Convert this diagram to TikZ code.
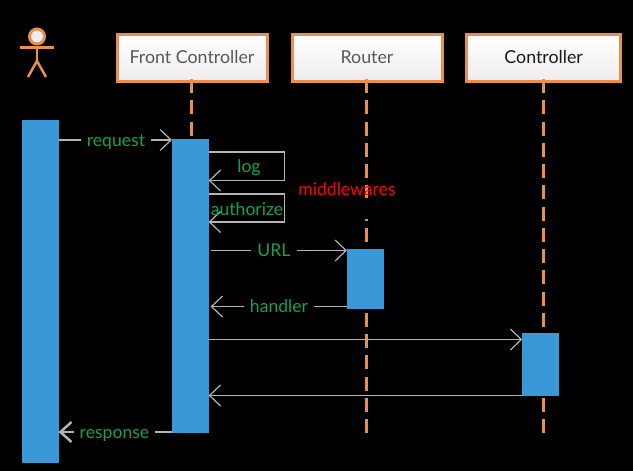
\documentclass[tikz,border=0pt]{standalone}
\usepackage{fontspec}
\setmainfont{Lato}
\usetikzlibrary{arrows.meta}
\definecolor{lineorange}{HTML}{E8914F}
\definecolor{barblue}{HTML}{3A98D8}
\definecolor{labelgreen}{HTML}{16A050}
\definecolor{msggray}{HTML}{B4B4B4}
\tikzset{
  head/.style = {draw = lineorange, line width = 3pt, top color = white, bottom color = black!7, minimum height = 47pt, font = \fontsize{17.8}{20}\selectfont},
  lifeline/.style = {draw = lineorange, line width = 3pt, dash pattern = on 14pt off 7.25pt},
  actbar/.style = {fill = barblue, inner sep = 0pt, outer sep = 0pt, minimum width = 36.7pt},
  msg/.style = {draw = msggray, line width = 1.4pt},
  tomsg/.style = {msg, -{Straight Barb[length = 11pt, width = 21pt, line width = 1.2pt]}},
  tomsgbig/.style = {msg, line width = 2.5pt, -{Straight Barb[length = 11pt, width = 20pt, line width = 2.5pt]}},
  msglabel/.style = {text = labelgreen, inner sep = 0pt, outer sep = 6pt, text height = 14pt, text depth = 2pt, font = \fontsize{17.6}{20}\selectfont},
  actorline/.style = {draw = lineorange, line width = 2.5pt}
}
\begin{document}
\begin{tikzpicture}[x = 1pt, y = -1pt]
\useasboundingbox (0,0) rectangle (633,471);
\fill[black] (0,0) rectangle (633,471);

\node[circle, draw = lineorange, line width = 3pt, fill = black!7, inner sep = 0pt, minimum size = 15pt] (head) at (37,36.5) {};
\coordinate (hip) at (37,61);
\draw[actorline] (head) -- (hip);
\draw[actorline] (20,47.5) -- (54,47.5);
\draw[actorline] (28,77) -- (hip) -- (46,77);

\node[head, minimum width = 150pt, text = black!65] (front) at (192,57.5) {Front Controller};
\node[head, minimum width = 150pt, text = black!65] (router) at (367,57.5) {Router};
\node[head, minimum width = 154pt, text = black!90] (ctrl) at (543.7,57.5) {Controller};

\coordinate (frontstart) at (191.5,79);
\coordinate (routerstart) at (366.5,79);
\coordinate (ctrlstart) at (543.5,79);
\coordinate (frontend) at (191.5,433);
\coordinate (routerend) at (366.5,433);
\coordinate (ctrlend) at (543.5,433);
\draw[lifeline] (frontstart) -- (frontend);
\draw[lifeline] (routerstart) -- (routerend);
\draw[lifeline] (ctrlstart) -- (ctrlend);
\fill[black] (298,198) rectangle (400,218.5);

\node[actbar, minimum height = 343.8pt] (userbar) at (40.3,291.4) {};
\node[actbar, minimum height = 294pt] (frontbar) at (190.3,286.3) {};
\node[actbar, minimum height = 60pt] (routerbar) at (365.3,279.3) {};
\node[actbar, minimum height = 62.4pt] (ctrlbar) at (540.6,364.5) {};

\node[msglabel] (request) at (116,140) {request};
\draw[msg] (userbar.east |- request) -- (request);
\draw[tomsg] (request) -- (frontbar.west |- request);

\coordinate (logtop) at (284.5,152);
\coordinate (logbottom) at (284.5,180.5);
\draw[tomsg] (frontbar.east |- logtop) -- (logtop) -- (logbottom) -- (frontbar.east |- logbottom);
\node[msglabel] (log) at (249,166) {log};

\coordinate (authtop) at (284.5,194);
\coordinate (authbottom) at (284.5,222);
\draw[tomsg] (frontbar.east |- authtop) -- (authtop) -- (authbottom) -- (frontbar.east |- authbottom);
\node[msglabel] (authorize) at (247,209) {authorize};

\node[msglabel] (mware) at (347,189) {\textcolor{red}{middlewares}};

\node[msglabel] (url) at (274,250.5) {URL};
\draw[msg, shorten < = 2pt] (frontbar.east |- url) -- (url);
\draw[tomsg] (url) -- (routerbar.west |- url);

\node[msglabel] (handler) at (279,306.5) {handler};
\draw[msg] (routerbar.west |- handler) -- (handler);
\draw[tomsg, shorten > = 2pt] (handler) -- (frontbar.east |- handler);

\coordinate (callctrl) at (300,339.5);
\coordinate (backctrl) at (300,395.5);
\draw[tomsg] (frontbar.east |- callctrl) -- (ctrlbar.west |- callctrl);
\draw[tomsg] (ctrlbar.west |- backctrl) -- (frontbar.east |- backctrl);

\node[msglabel] (response) at (114.5,432) {response};
\draw[msg, line width = 2.5pt] (frontbar.west |- response) -- (response);
\draw[tomsgbig] (response) -- (userbar.east |- response);
\end{tikzpicture}
\end{document}
